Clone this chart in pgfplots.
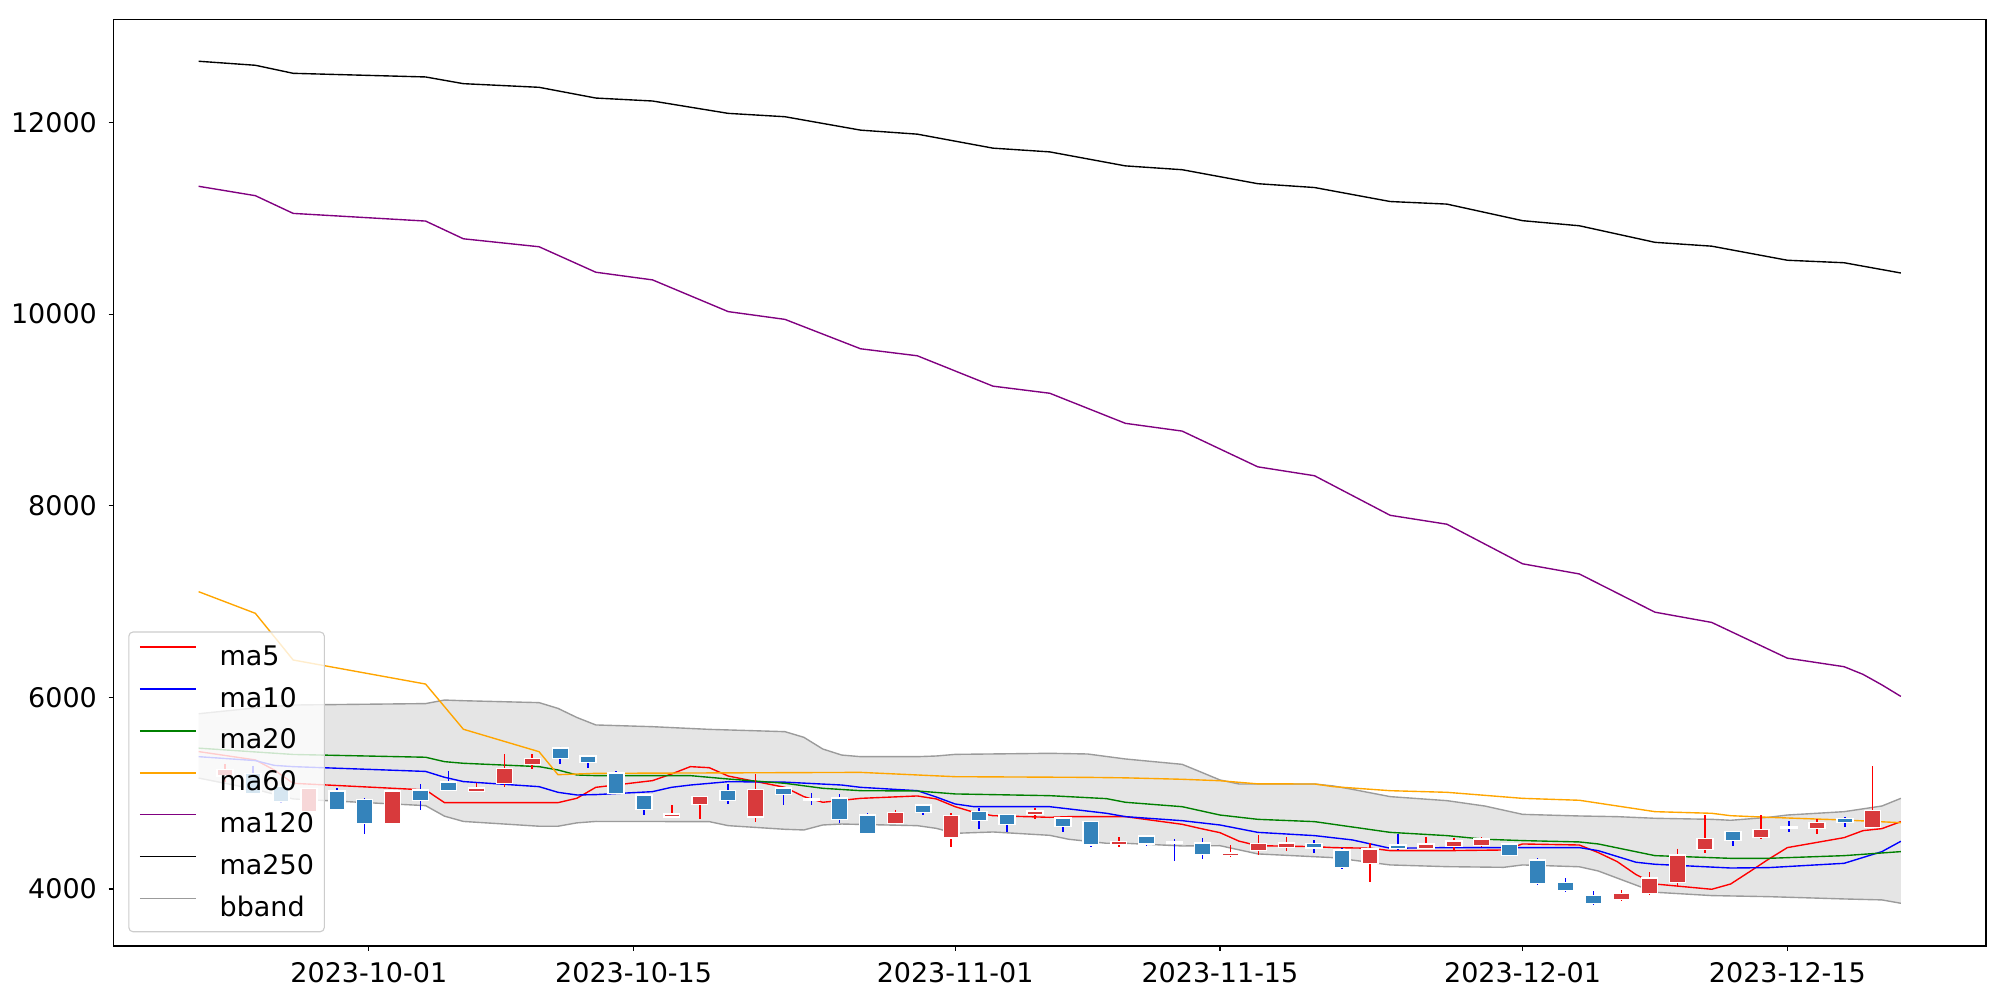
\documentclass[border=0pt]{standalone}
\usepackage{fontspec}
\setmainfont{DejaVu Sans}
\usepackage{pgfplots}
\pgfplotsset{compat=1.18}
\usepackage{pgfplotstable}
\usepgfplotslibrary{fillbetween}

\definecolor{bodyred}{RGB}{216,58,60}
\definecolor{bodyblue}{RGB}{52,131,187}
\definecolor{bandfill}{RGB}{229,229,229}
\definecolor{bandline}{RGB}{155,155,155}
\definecolor{mpgreen}{RGB}{0,128,0}
\definecolor{mporange}{RGB}{255,165,0}
\definecolor{mppurple}{RGB}{128,0,128}
\definecolor{legframe}{RGB}{204,204,204}
\newcommand{\tfont}{\fontsize{19.5}{23.4}\selectfont}

% candles: x top bot hi lo
\pgfplotstableread{
x top bot hi lo
-7.60 5242 5185 5300 5120
-3.17 5043 4818 5043 4818
1.26 5013 4693 5013 4693
5.69 5047 5027 5110 5027
7.17 5249 5110 5406 5068
8.64 5357 5305 5406 5249
16.02 4776 4758 4873 4748
17.50 4957 4887 4957 4727
20.45 5030 4758 5197 4703
27.84 4793 4692 4825 4692
30.79 4762 4539 4790 4435
35.22 4807 4783 4849 4727
39.65 4491 4470 4539 4435
45.55 4370 4362 4459 4331
47.03 4466 4407 4564 4355
48.51 4473 4439 4539 4400
52.94 4411 4272 4477 4070
55.89 4463 4428 4539 4428
57.37 4494 4449 4529 4407
58.84 4515 4459 4539 4442
66.23 3948 3899 3986 3872
67.70 4105 3962 4174 3934
69.18 4348 4077 4421 4032
70.65 4522 4418 4769 4379
73.61 4616 4543 4769 4525
76.56 4689 4640 4727 4571
79.51 4814 4651 5280 4651
}\redc

\pgfplotstableread{
x top bot hi lo
-6.12 5200 5005 5288 5005
-4.65 5065 4922 5068 4894
-1.69 5013 4840 5051 4840
-0.22 4929 4693 4947 4574
2.74 5027 4929 5093 4825
4.21 5110 5034 5235 5034
10.12 5465 5367 5486 5305
11.59 5381 5329 5381 5260
13.07 5202 5002 5230 5002
14.55 4974 4835 4974 4769
18.98 5019 4929 5092 4891
21.93 5047 4992 5068 4873
23.41 4936 4936 4998 4880
24.88 4943 4731 4988 4692
26.36 4766 4588 4790 4588
29.31 4870 4804 4870 4776
32.27 4804 4720 4842 4623
33.74 4772 4678 4772 4599
36.70 4734 4661 4734 4599
38.17 4699 4466 4699 4442
41.12 4546 4477 4564 4452
42.60 4484 4484 4519 4296
44.08 4473 4369 4529 4317
49.98 4466 4435 4511 4379
51.46 4400 4230 4432 4212
54.41 4450 4430 4571 4407
60.32 4463 4355 4477 4355
61.80 4296 4066 4320 4045
63.27 4063 3990 4112 3969
64.75 3927 3858 3976 3830
72.13 4595 4512 4595 4445
75.08 4640 4640 4706 4592
78.04 4731 4699 4755 4647
}\bluec

\pgfplotstableread{
x y
-9 5434
-6 5347
-5 5242
-4 5103
3 5034
4 4901
5 4901
9 4901
10 4901
11 4947
12 5061
15 5131
16 5200
17 5277
18 5266
19 5179
22 5061
23 4964
24 4905
25 4925
26 4946
29 4971
30 4940
31 4859
32 4800
33 4765
36 4748
37 4755
40 4755
43 4675
44 4630
45 4588
46 4500
47 4452
50 4442
51 4432
53 4425
54 4400
57 4400
60 4407
61 4470
64 4459
65 4380
66 4286
67 4150
68 4052
71 3997
72 4052
73 4180
74 4310
75 4432
78 4536
79 4609
80 4630
81 4703
}\maA

\pgfplotstableread{
x y
-9 5381
-6 5340
-5 5290
-4 5277
3 5227
4 5166
5 5121
9 5068
10 5009
11 4981
12 4985
15 5016
16 5061
17 5085
19 5120
22 5115
25 5085
26 5061
29 5026
30 4960
31 4887
32 4859
36 4859
39 4790
40 4755
43 4713
45 4668
47 4591
50 4557
52 4512
54 4425
57 4432
64 4432
65 4400
67 4279
68 4258
72 4219
74 4223
78 4268
80 4390
81 4498
}\maB

\pgfplotstableread{
x y
-9 5470
-4 5404
3 5375
4 5329
5 5312
9 5277
10 5242
11 5190
12 5183
17 5183
19 5148
22 5103
24 5051
26 5026
29 5023
31 4992
36 4974
39 4943
40 4905
43 4859
45 4772
47 4727
50 4703
54 4591
57 4557
59 4519
61 4505
64 4491
65 4470
68 4348
72 4320
74 4320
78 4348
81 4390
}\maC

\pgfplotstableread{
x y
-9 7103
-6 6877
-4 6390
3 6139
5 5667
9 5433
10 5193
12 5207
26 5217
31 5172
38 5165
40 5160
43 5145
45 5130
47 5097
50 5096
51 5068
54 5026
57 5009
61 4946
64 4926
68 4807
71 4790
72 4765
74 4748
78 4720
81 4692
}\maD

\pgfplotstableread{
x y
-9 11334
-6 11236
-4 11051
3 10971
5 10786
9 10703
12 10437
15 10357
19 10026
22 9945
26 9638
29 9565
33 9248
36 9174
40 8860
43 8779
47 8406
50 8313
54 7900
57 7807
61 7394
64 7288
68 6889
71 6782
75 6409
78 6320
79 6240
80 6130
81 6010
}\maE

\pgfplotstableread{
x y
-9 12639
-6 12597
-4 12513
3 12475
5 12405
9 12367
12 12255
15 12224
19 12095
22 12060
26 11920
29 11878
33 11732
36 11693
40 11547
43 11507
47 11361
50 11321
54 11175
57 11148
61 10975
64 10922
68 10749
71 10709
75 10562
78 10536
81 10429
}\maF

\pgfplotstableread{
x y
-9 5829
-6 5890
-4 5920
3 5935
4 5972
5 5965
9 5945
10 5885
11 5790
12 5712
15 5694
18 5666
22 5642
23 5583
24 5461
25 5398
26 5381
29 5381
30 5388
31 5405
36 5416
38 5409
40 5357
43 5301
44 5220
45 5138
46 5096
50 5096
51 5075
52 5040
54 4964
57 4922
59 4866
61 4779
64 4762
66 4755
68 4738
71 4727
72 4717
74 4748
75 4772
78 4807
80 4866
81 4946
}\bup

\pgfplotstableread{
x y
-9 5158
-6 5040
-4 4940
3 4870
4 4760
5 4705
9 4655
10 4655
11 4690
12 4705
18 4703
19 4661
22 4623
23 4616
24 4668
25 4678
29 4661
30 4633
31 4581
33 4595
36 4560
37 4519
39 4477
40 4477
43 4449
45 4452
47 4366
51 4327
54 4251
57 4233
60 4226
61 4251
64 4232
65 4188
68 3966
71 3931
74 3920
78 3896
80 3886
81 3851
}\blo

\begin{document}
\begin{tikzpicture}
\begin{axis}[
  scale only axis, width=18.725in, height=9.269in,
  xmin=-13.5, xmax=85.5, ymin=3405, ymax=13079,
  scaled x ticks=false, scaled y ticks=false,
  xtick={0,14,31,45,61,75},
  xticklabels={2023-10-01,2023-10-15,2023-11-01,2023-11-15,2023-12-01,2023-12-15},
  ytick={4000,6000,8000,10000,12000},
  yticklabels={4000,6000,8000,10000,12000},
  xtick pos=bottom, ytick pos=left,
  tick align=outside, major tick length=3.5pt,
  tick style={black, line width=0.8pt},
  axis line style={black, line width=0.8pt},
  ticklabel style={font=\tfont},
  xticklabel style={anchor=north, inner sep=0pt, yshift=-7.9pt},
  yticklabel style={anchor=east, inner sep=0pt, xshift=-8.3pt},
  legend cell align=left,
  legend image code/.code={\draw[#1] (0pt,6.5pt) -- (40.5pt,6.5pt);},
  legend style={at={(0.0079,0.0148)}, anchor=south west, draw=legframe, line width=0.8pt,
    fill=white, fill opacity=0.8, text opacity=1, draw opacity=1, rounded corners=3pt,
    inner xsep=7.5pt, inner ysep=7.4pt, row sep=10.3pt, column sep=16.6pt, font=\tfont,
    nodes={inner sep=0pt, text height=16.5pt, text depth=3.5pt}},
]
% bollinger band
\addplot[name path=bu, draw=none, forget plot] table[x=x,y=y] {\bup};
\addplot[name path=bl, draw=none, forget plot] table[x=x,y=y] {\blo};
\addplot[bandfill, forget plot] fill between[of=bu and bl];
\addplot[bandline, line width=1pt, forget plot] table[x=x,y=y] {\bup};
\addplot[bandline, line width=1pt, forget plot] table[x=x,y=y] {\blo};
% moving averages
\addplot[red, line width=1pt] table[x=x,y=y] {\maA};
\addlegendentry{ma5}
\addplot[blue, line width=1pt] table[x=x,y=y] {\maB};
\addlegendentry{ma10}
\addplot[mpgreen, line width=1pt] table[x=x,y=y] {\maC};
\addlegendentry{ma20}
\addplot[mporange, line width=1pt] table[x=x,y=y] {\maD};
\addlegendentry{ma60}
\addplot[mppurple, line width=1pt] table[x=x,y=y] {\maE};
\addlegendentry{ma120}
\addplot[black, line width=1pt] table[x=x,y=y] {\maF};
\addlegendentry{ma250}
\addlegendimage{bandline, line width=1pt}
\addlegendentry{bband}
% wicks
\addplot[draw=none, mark=none, forget plot, error bars/.cd, y dir=minus, y explicit, error mark=none,
  error bar style={draw=red, line width=1.1pt}]
  table[x=x, y=hi, y error minus expr=\thisrow{hi}-\thisrow{lo}] {\redc};
\addplot[draw=none, mark=none, forget plot, error bars/.cd, y dir=minus, y explicit, error mark=none,
  error bar style={draw=blue, line width=1.1pt}]
  table[x=x, y=hi, y error minus expr=\thisrow{hi}-\thisrow{lo}] {\bluec};
% bodies: white edge then colour
\addplot[draw=none, mark=none, forget plot, error bars/.cd, y dir=minus, y explicit, error mark=none,
  error bar style={draw=white, line width=12.5pt}]
  table[x=x, y expr=\thisrow{top}+15, y error minus expr=\thisrow{top}-\thisrow{bot}+30] {\redc};
\addplot[draw=none, mark=none, forget plot, error bars/.cd, y dir=minus, y explicit, error mark=none,
  error bar style={draw=bodyred, line width=10.5pt}]
  table[x=x, y=top, y error minus expr=\thisrow{top}-\thisrow{bot}] {\redc};
\addplot[draw=none, mark=none, forget plot, error bars/.cd, y dir=minus, y explicit, error mark=none,
  error bar style={draw=white, line width=12.5pt}]
  table[x=x, y expr=\thisrow{top}+15, y error minus expr=\thisrow{top}-\thisrow{bot}+30] {\bluec};
\addplot[draw=none, mark=none, forget plot, error bars/.cd, y dir=minus, y explicit, error mark=none,
  error bar style={draw=bodyblue, line width=10.5pt}]
  table[x=x, y=top, y error minus expr=\thisrow{top}-\thisrow{bot}] {\bluec};
\end{axis}
\pgfresetboundingbox
\path[use as bounding box] ([shift={(-1.135in,-0.54in)}]current axis.south west) rectangle ++(20in,10in);
\end{tikzpicture}
\end{document}
